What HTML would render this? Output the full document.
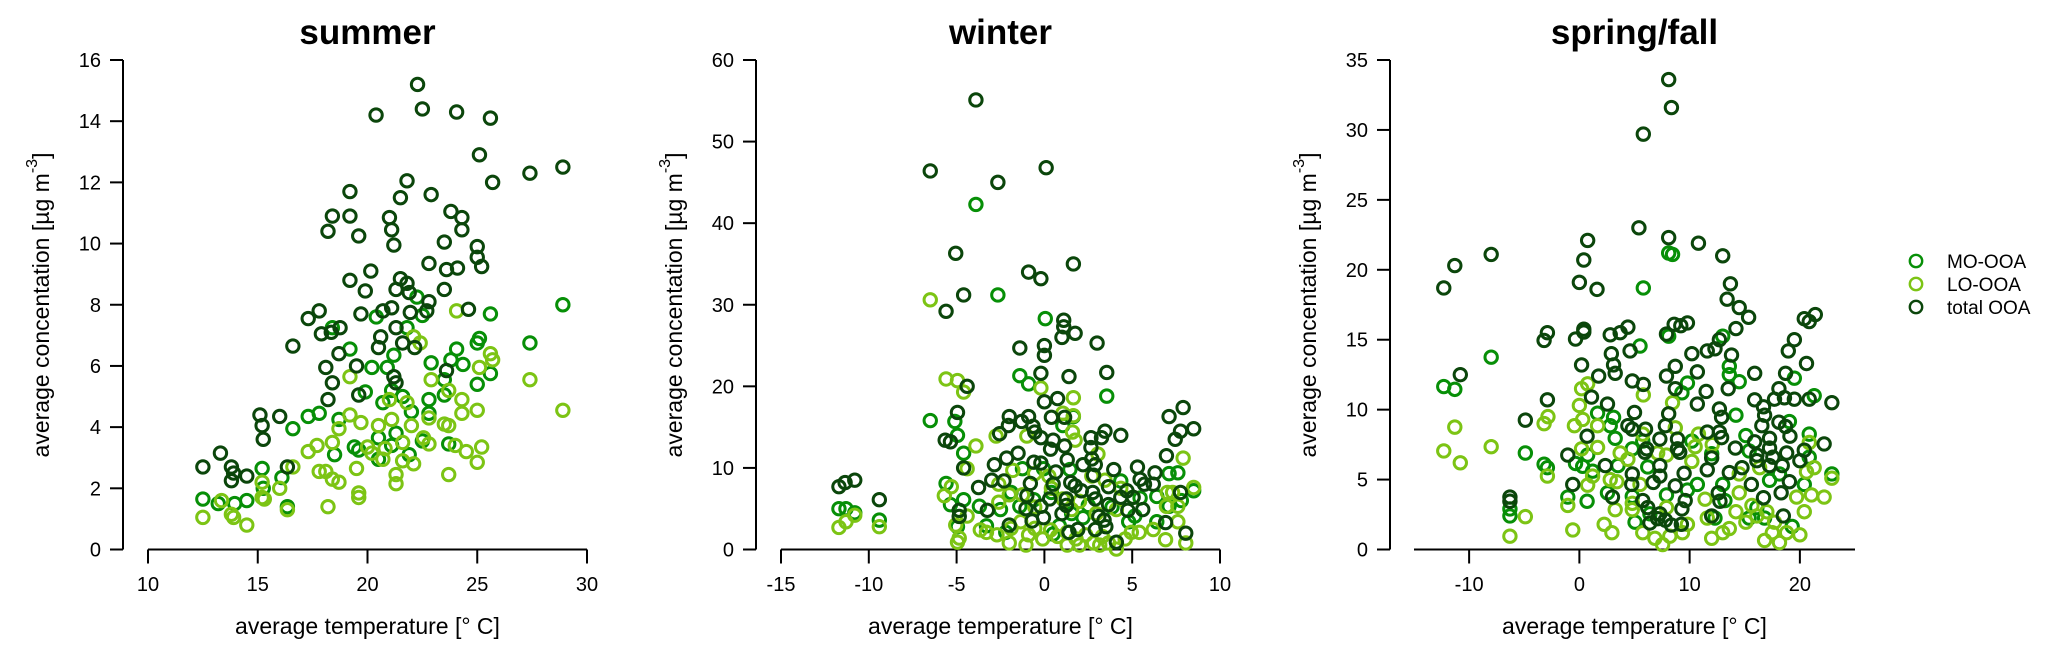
<!DOCTYPE html>
<html><head><meta charset="utf-8">
<style>
html,body{margin:0;padding:0;background:#fff;}
svg{display:block;font-family:"Liberation Sans",Arial,sans-serif;}
</style></head>
<body>
<svg id="chart" width="2067" height="654" viewBox="0 0 2067 654" xmlns="http://www.w3.org/2000/svg"></svg>
<script>
// ---------------- data ----------------
const summerTotX=[22.28,20.39,22.5,24.06,25.6,25.1,27.4,28.9,25.7,21.8,19.2,22.9,21.5,18.4,19.2,21.0,23.8,24.3,18.2,21.1,24.3,19.6,21.2,23.5,25.0,25.0,25.2,22.8,23.6,24.1,20.15,19.2,21.5,19.9,21.3,21.8,21.9,23.5,22.8,21.1,20.7,22.7,21.95,24.6,19.7,17.3,17.8,17.9,18.35,18.75,21.3,16.6,20.6,20.5,21.6,22.15,18.7,19.5,18.1,18.4,21.2,21.3,23.6,19.6,18.2,15.1,16.0,15.2,15.25,13.3,12.5,13.8,13.8,13.9,14.5,16.35];
const summerTotY=[15.2,14.2,14.4,14.3,14.1,12.9,12.3,12.5,12.0,12.05,11.7,11.6,11.5,10.9,10.9,10.85,11.05,10.85,10.4,10.45,10.45,10.25,9.95,10.05,9.9,9.55,9.25,9.35,9.15,9.2,9.1,8.8,8.85,8.45,8.5,8.7,8.4,8.5,8.1,7.9,7.8,7.8,7.75,7.85,7.7,7.55,7.8,7.05,7.1,7.25,7.25,6.65,6.95,6.6,6.75,6.6,6.4,6.0,5.95,5.45,5.65,5.45,5.85,5.05,4.9,4.4,4.35,4.05,3.6,3.15,2.7,2.7,2.25,2.5,2.4,2.7];
const summerMoX=[28.9,25.6,27.4,20.4,22.5,22.25,21.8,18.4,19.2,24.06,25.0,25.1,22.9,21.2,20.2,23.8,24.35,25.6,23.5,25.0,20.9,21.1,21.6,23.5,20.7,22.8,19.9,17.3,17.8,16.6,18.7,22.0,22.8,20.5,21.3,19.4,19.6,18.5,23.7,21.9,22.5,21.1,15.2,16.1,15.25,12.5,13.2,13.95,14.5,16.35,20.5];
const summerMoY=[8.0,7.7,6.75,7.6,7.65,8.25,7.25,7.25,6.55,6.55,6.75,6.9,6.1,6.35,5.95,6.2,6.05,5.75,5.55,5.4,5.95,5.2,5.0,5.05,4.8,4.9,5.15,4.35,4.45,3.95,4.25,4.5,4.45,3.65,3.8,3.35,3.25,3.1,3.45,3.1,3.55,3.4,2.65,2.35,2.0,1.65,1.5,1.5,1.6,1.4,2.95];
const summerLoX=[28.9,27.4,24.06,25.6,25.7,25.1,22.1,22.4,19.2,22.9,23.7,25.0,24.3,24.3,21.8,21.0,19.2,19.7,20.5,21.1,23.5,23.7,22.8,22.0,18.7,18.4,17.3,17.7,20.0,20.2,20.8,21.6,22.55,22.8,24.0,24.5,25.2,21.6,22.1,25.0,23.7,21.3,21.3,19.5,17.8,18.1,18.4,18.7,19.6,19.6,16.6,16.0,15.2,15.3,18.2,13.35,13.8,13.9,14.5,12.5,16.35,15.2,20.7];
const summerLoY=[4.55,5.55,7.8,6.4,6.2,5.95,6.95,6.75,5.65,5.55,5.2,4.55,4.9,4.45,4.8,4.9,4.4,4.15,4.05,4.25,4.1,4.05,4.3,4.05,3.95,3.5,3.2,3.4,3.35,3.15,3.3,3.5,3.65,3.45,3.4,3.2,3.35,2.9,2.8,2.85,2.45,2.45,2.15,2.65,2.55,2.55,2.3,2.2,1.85,1.7,2.7,2.0,1.7,1.65,1.4,1.6,1.15,1.05,0.8,1.05,1.3,2.2,2.95];

const winterTotX=[-3.9,-6.5,0.1,-2.65,-5.05,1.65,-4.6,-5.6,-0.9,-0.2,1.1,1.1,1.75,1.0,3.0,0.0,0.0,-1.4,-0.2,3.55,1.4,-4.4,0.75,0.0,7.9,-4.95,-2.0,-0.9,0.4,1.15,7.1,8.5,-2.05,-1.3,-0.65,-2.55,-0.55,3.45,4.35,2.65,3.25,7.75,7.45,-5.65,-5.35,-0.2,0.5,2.65,0.35,1.15,-1.5,6.95,-2.15,1.3,2.7,-2.85,-0.6,-0.2,2.2,2.9,5.3,3.95,-4.6,0.65,6.3,2.8,5.45,-3.0,-2.3,1.5,5.7,6.2,-0.8,0.5,1.75,3.65,-3.75,-11.7,-11.35,-10.8,2.1,2.75,7.75,4.7,4.35,-9.4,-1.0,0.3,1.25,2.9,5.05,-0.2,1.25,3.65,-1.05,-4.85,-3.25,4.75,5.6,1.0,-4.85,-0.05,3.1,3.4,-0.7,6.9,-2.0,1.9,2.9,1.4,8.05,3.5,4.1];
const winterTotY=[55.1,46.4,46.8,45.0,36.3,35.0,31.2,29.2,34.0,33.2,28.1,27.3,26.5,26.0,25.3,25.0,23.8,24.7,21.6,21.7,21.2,20.0,18.5,18.1,17.4,16.8,16.3,16.3,16.2,16.2,16.3,14.8,15.2,15.7,15.1,14.2,14.4,14.5,14.0,13.7,13.7,14.5,13.5,13.4,13.2,13.7,13.4,12.5,12.3,12.7,11.8,11.5,11.2,11.0,11.1,10.4,10.7,10.6,10.4,10.4,10.1,9.8,10.0,9.5,9.4,9.1,8.6,8.5,8.4,8.2,8.0,8.0,8.1,8.0,7.8,7.7,7.6,7.7,8.2,8.5,7.2,7.0,7.0,7.2,6.4,6.1,6.6,6.2,6.2,6.2,6.4,5.3,5.4,5.5,5.0,4.8,4.8,4.8,4.9,4.4,4.05,3.9,4.05,3.6,3.5,3.3,3.0,2.45,2.45,2.1,2.0,2.8,0.9];
const winterMoX=[-3.9,-2.65,0.05,3.55,-1.4,-0.9,-6.5,-5.1,1.65,1.05,-4.95,-4.6,-5.6,7.1,7.6,-1.25,-0.05,1.45,4.35,5.45,6.4,-4.6,-3.7,-2.5,-1.9,-1.4,-0.6,0.4,2.5,7.1,7.8,8.5,-5.35,-11.7,-11.3,-10.8,-9.4,-4.95,-3.3,2.2,4.8,6.4,0.85,1.55,3.85,5.15,-2.2,0.5];
const winterMoY=[42.3,31.2,28.3,18.8,21.3,20.3,15.8,15.7,16.3,15.2,14.0,11.8,8.1,9.3,9.4,9.9,9.9,9.8,8.4,6.3,6.5,6.1,5.3,4.9,7.0,5.3,6.1,7.0,5.4,5.3,6.0,7.2,5.5,5.0,5.0,4.5,3.6,2.8,2.9,3.9,3.4,3.4,2.9,4.4,5.2,4.1,2.1,1.9];
const winterLoX=[-6.5,-5.6,-4.95,-4.6,-0.2,1.65,1.65,1.05,1.6,1.75,-2.75,-3.9,-1.0,3.05,7.9,-1.8,-0.55,0.25,2.7,3.45,-2.6,-4.4,-5.3,8.5,7.0,7.3,-5.7,-2.6,-2.0,-1.25,0.4,1.05,2.0,4.35,5.05,6.95,7.6,-0.55,1.55,2.95,4.1,-11.7,-11.3,-10.8,-9.4,-5.05,-4.4,-3.65,-3.3,-2.7,-1.9,-1.35,-0.9,-0.55,-0.1,0.35,0.75,1.3,1.8,2.35,2.8,3.3,3.65,4.1,4.6,4.95,5.4,6.2,6.9,7.6,8.05,-4.95,-4.85,-2.0,-1.05,1.3,2.0,3.15];
const winterLoY=[30.6,20.9,20.7,19.3,19.8,18.6,16.4,16.7,14.4,13.4,13.9,12.7,13.9,11.7,11.2,9.7,9.3,9.0,9.0,8.5,8.0,9.9,7.7,7.6,7.0,7.0,6.6,5.8,6.7,6.7,7.5,6.2,5.9,7.5,6.4,5.3,5.3,5.2,4.9,4.4,4.9,2.7,3.4,4.2,2.8,3.0,4.1,2.4,2.1,1.8,2.6,3.4,1.8,2.6,1.3,2.4,1.6,2.1,1.3,1.8,0.8,1.6,0.8,0.05,1.3,2.1,2.1,2.45,1.2,3.4,0.8,0.9,1.4,0.8,0.55,0.55,0.55,0.55];

const springTotX=[8.1,8.35,5.8,5.4,8.1,10.8,13.0,0.75,0.4,0.0,1.6,-8.0,-11.3,-12.3,13.7,13.4,14.5,15.35,20.4,20.85,21.4,19.5,18.95,14.2,12.7,8.6,9.8,9.2,7.9,4.4,3.7,2.8,0.4,-0.35,0.4,-2.9,-3.2,-10.8,-2.9,-4.9,4.6,2.9,3.1,3.25,0.2,1.75,4.8,5.8,10.2,11.6,12.3,13.8,8.7,10.7,11.5,7.9,8.7,13.5,15.9,20.6,18.7,18.1,18.6,19.5,20.85,17.7,22.9,15.9,16.7,10.7,2.55,1.1,16.8,12.7,12.9,8.1,5.0,4.4,4.8,6.0,7.8,11.6,12.7,12.9,16.55,18.1,18.7,19.1,0.7,8.9,7.3,15.9,17.25,17.25,22.2,8.9,6.1,14.15,5.95,20.4,-1.05,16.1,17.55,18.8,12.0,9.1,20.0,16.1,2.35,7.3,17.25,18.4,11.6,14.75,13.6,9.5,4.8,7.3,8.7,4.75,15.6,19.05,-0.6,6.7,12.6,18.3,16.7,3.0,5.75,9.6,12.75,6.2,9.3,7.3,7.1,7.8,6.4,8.35,9.25,12.0,18.5,-6.3,-6.3];
const springTotY=[33.6,31.6,29.7,23.0,22.3,21.9,21.0,22.1,20.7,19.1,18.6,21.1,20.3,18.7,19.0,17.9,17.3,16.6,16.5,16.3,16.8,15.0,14.2,15.8,15.0,16.1,16.2,16.0,15.4,15.9,15.5,15.35,15.55,15.05,15.75,15.5,14.95,12.5,10.7,9.25,14.2,14.0,13.2,12.6,13.2,12.4,12.05,11.8,14.0,14.2,14.35,13.9,13.1,12.7,11.3,12.4,11.5,11.5,12.6,13.3,12.6,11.5,10.85,10.75,10.75,10.75,10.5,10.7,10.2,10.4,10.4,10.9,9.6,10.05,9.45,9.7,9.8,8.85,8.6,8.6,8.85,8.4,8.4,8.0,8.85,9.1,8.8,8.1,8.1,7.9,7.9,7.7,7.95,7.25,7.55,7.2,7.2,7.25,6.95,7.1,6.75,6.75,6.6,6.9,6.55,6.95,6.35,6.35,6.0,6.0,6.0,6.0,5.7,5.85,5.5,5.45,5.4,5.25,4.55,4.65,4.65,4.85,4.65,4.8,4.05,4.05,3.7,3.75,3.5,3.5,3.45,3.0,2.9,2.55,2.2,2.1,1.9,1.75,1.8,2.4,2.4,3.75,3.45];
const springMoX=[8.1,8.45,5.8,5.5,8.1,13.0,-12.3,-11.3,-8.0,-4.9,-3.2,-2.9,-6.3,-6.3,13.6,13.6,14.5,19.5,21.3,9.8,9.3,1.65,3.1,2.8,3.25,5.75,10.2,4.8,0.75,-0.35,0.3,1.2,3.5,6.2,12.0,14.2,15.1,15.4,19.05,20.85,20.85,22.9,20.4,18.15,17.25,13.0,10.7,9.8,7.9,4.8,5.05,6.4,-1.05,0.7,2.55,13.2,12.3,16.1,16.8,15.4,19.3];
const springMoY=[21.2,21.1,18.7,14.55,15.25,15.25,11.65,11.45,13.75,6.9,6.1,5.85,2.9,2.4,12.5,13.1,12.0,12.25,11.0,11.9,11.2,9.75,9.45,8.85,7.95,7.75,7.75,7.2,6.75,6.15,5.95,5.6,6.0,5.9,6.85,9.6,8.15,7.05,9.15,8.25,6.6,5.4,4.65,5.4,4.95,4.65,4.65,4.25,3.9,3.8,1.95,2.55,3.75,3.45,4.05,3.5,2.25,3.0,2.25,2.25,1.65];
const springLoX=[5.8,8.45,0.2,0.75,0.0,-0.45,0.3,1.65,0.2,1.65,-3.2,-2.85,-11.3,-12.3,-10.8,-8.0,-2.9,-4.9,-6.3,-1.05,-0.6,0.75,1.2,2.25,2.95,2.8,3.4,3.7,4.4,4.8,5.5,5.75,7.1,7.9,8.7,10.2,10.5,10.8,12.05,11.4,11.6,12.0,13.0,13.6,14.2,14.5,15.1,15.65,16.1,17.0,17.7,16.8,18.15,17.5,18.8,20.0,19.7,20.4,21.05,22.2,22.9,21.3,20.85,20.6,6.85,7.55,8.2,5.75,9.35,9.8,4.8,3.25,7.9,16.35,14.5];
const springLoY=[11.05,10.5,11.5,11.85,10.3,8.85,9.3,8.85,7.2,7.3,9.0,9.5,8.75,7.05,6.2,7.35,5.25,2.35,0.95,3.15,1.4,4.6,5.25,1.8,1.2,5.0,4.85,6.9,6.45,2.85,4.65,8.25,6.9,6.75,8.7,6.3,7.35,8.25,7.5,3.6,2.25,0.8,1.2,1.5,2.7,4.05,1.95,3.15,2.4,2.7,1.95,0.65,0.5,1.2,1.2,1.05,3.75,2.7,3.9,3.75,5.1,5.85,7.65,5.55,0.8,0.35,0.95,1.2,1.2,1.8,3.3,2.85,3.0,5.85,5.4];

const summerXTicks=[10,15,20,25,30];
const summerYTicks=[0,2,4,6,8,10,12,14,16];
const winterXTicks=[-15,-10,-5,0,5,10];
const winterYTicks=[0,10,20,30,40,50,60];
const springXTicks=[-10,0,10,20];
const springYTicks=[0,5,10,15,20,25,30,35];
const legendLabels=["MO-OOA","LO-OOA","total OOA"];

// ---------------- drawing ----------------
const NS="http://www.w3.org/2000/svg";
const svg=document.getElementById('chart');
const COL={mo:"#078f07",lo:"#7cc414",tot:"#0b460b"};
function mk(tag,attrs,parent){const e=document.createElementNS(NS,tag);for(const k in attrs)e.setAttribute(k,attrs[k]);(parent||svg).appendChild(e);return e;}

const panels=[
 {key:'summer',title:'summer',axisX:123,x0:148,x1:587,xmin:10,xmax:30,ymax:16,xt:summerXTicks,yt:summerYTicks,
  series:[[summerMoX,summerMoY,'mo'],[summerLoX,summerLoY,'lo'],[summerTotX,summerTotY,'tot']]},
 {key:'winter',title:'winter',axisX:756,x0:781,x1:1220,xmin:-15,xmax:10,ymax:60,xt:winterXTicks,yt:winterYTicks,
  series:[[winterMoX,winterMoY,'mo'],[winterLoX,winterLoY,'lo'],[winterTotX,winterTotY,'tot']]},
 {key:'spring',title:'spring/fall',axisX:1390,x0:1414,x1:1855,xmin:-15,xmax:25,ymax:35,xt:springXTicks,yt:springYTicks,
  series:[[springMoX,springMoY,'mo'],[springLoX,springLoY,'lo'],[springTotX,springTotY,'tot']]}
];
const Y0=549.5, YT=60;

panels.forEach(p=>{
  const g=mk('g',{});
  
  
  const sx=v=>p.x0+(v-p.xmin)/(p.xmax-p.xmin)*(p.x1-p.x0);
  const sy=v=>Y0-v/p.ymax*(Y0-YT);
  const t=mk('text',{x:(p.x0+p.x1)/2,y:44,'text-anchor':'middle','font-size':35,'font-weight':'bold',fill:'#000'},g);
  t.textContent=p.title;
  
  
  const ya=mk('path',{d:`M${p.axisX} ${sy(p.yt[0])}V${sy(p.yt[p.yt.length-1])}`,stroke:'#000','stroke-width':2,fill:'none'},g);
  
  
  p.yt.forEach(v=>{
    mk('path',{d:`M${p.axisX-13} ${sy(v)}H${p.axisX}`,stroke:'#000','stroke-width':2},g);
    const l=mk('text',{x:p.axisX-22,y:sy(v)+7,'text-anchor':'end','font-size':20,fill:'#000'},g);
    l.textContent=v;
    
    
  });
  const xa=mk('path',{d:`M${p.x0} ${Y0}H${p.x1}`,stroke:'#000','stroke-width':2},g);
  
  
  p.xt.forEach(v=>{
    mk('path',{d:`M${sx(v)} ${Y0}V${Y0+14}`,stroke:'#000','stroke-width':2},g);
    const l=mk('text',{x:sx(v),y:591,'text-anchor':'middle','font-size':20,fill:'#000'},g);
    l.textContent=v;
    
    
  });
  const xl=mk('text',{x:(p.x0+p.x1)/2,y:634,'text-anchor':'middle','font-size':23,fill:'#000'},g);
  xl.textContent='average temperature [° C]';
  
  
  const yl=mk('text',{transform:`translate(${p.axisX-74},305) rotate(-90)`,'text-anchor':'middle','font-size':23,fill:'#000'},g);
  yl.innerHTML='average concentation [µg m<tspan dy="-12" font-size="16">-3</tspan><tspan dy="12">]</tspan>';
  
  
  p.series.forEach(s=>{
    const [xs,ys,c]=s;
    xs.forEach((xv,i)=>{
      const pt=mk('circle',{cx:sx(xv),cy:sy(ys[i]),r:6.2,fill:'none',stroke:COL[c],'stroke-width':3},g);
      
      
    });
  });
});

const lg=mk('g',{});


['mo','lo','tot'].forEach((c,i)=>{
  const y=261+i*23;
  const ci=mk('circle',{cx:1916,cy:y,r:6.2,fill:'none',stroke:COL[c],'stroke-width':2.4},lg);
  
  
  const t=mk('text',{x:1947,y:y+7,'font-size':19,fill:'#000'},lg);
  t.textContent=legendLabels[i];
  
  
});
</script>
</body></html>
